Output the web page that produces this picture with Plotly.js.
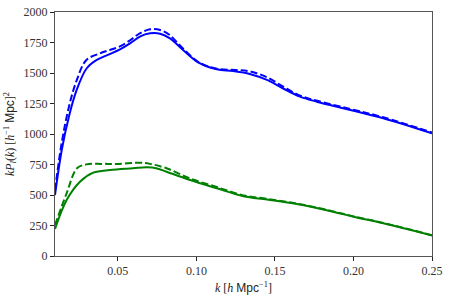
<!DOCTYPE html>
<html>
<head>
<meta charset="utf-8">
<script src="https://cdn.plot.ly/plotly-3.0.1.min.js"></script>
<style>html,body{margin:0;padding:0;background:#fff;}#chart{width:450px;height:299px;}</style>
</head>
<body>
<div id="chart"></div>
<script>
const kBlueSolid = [0.010, 0.0143, 0.019, 0.0238, 0.0302, 0.0366, 0.044, 0.0514, 0.058, 0.064, 0.0705, 0.0769, 0.0832, 0.0915, 0.102, 0.113, 0.1234, 0.134, 0.1449, 0.155, 0.166, 0.1767, 0.198, 0.219, 0.25];
const pBlueSolid = [500, 869, 1150, 1361, 1539, 1607, 1650, 1694, 1745, 1798, 1825, 1822, 1784, 1689, 1580, 1530, 1516, 1492, 1443, 1375, 1306, 1265, 1197, 1129, 1005];
const kBlueDash = [0.010, 0.0143, 0.019, 0.0238, 0.030, 0.0387, 0.044, 0.051, 0.058, 0.064, 0.0705, 0.077, 0.083, 0.0915, 0.102, 0.113, 0.125, 0.135, 0.145, 0.155, 0.166, 0.177, 0.198, 0.219, 0.25];
const pBlueDash = [540, 930, 1230, 1440, 1607, 1661, 1685, 1716, 1770, 1825, 1858, 1852, 1811, 1700, 1585, 1535, 1525, 1510, 1465, 1390, 1315, 1272, 1205, 1137, 1012];
const kGreenSolid = [0.010, 0.0174, 0.0259, 0.0344, 0.045, 0.0597, 0.0684, 0.075, 0.081, 0.096, 0.113, 0.13, 0.145, 0.164, 0.187, 0.20, 0.219, 0.25];
const pGreenSolid = [221, 459, 609, 683, 705, 719, 727, 718, 691, 623, 555, 490, 463, 426, 363, 322, 268, 168];
const kGreenDash = [0.010, 0.0174, 0.024, 0.030, 0.040, 0.050, 0.064, 0.0705, 0.081, 0.096, 0.113, 0.13, 0.145, 0.164, 0.187, 0.20, 0.219, 0.25];
const pGreenDash = [254, 514, 719, 751, 755, 755, 765, 755, 719, 635, 565, 497, 468, 430, 366, 325, 271, 170];
const xTicks = [0.05, 0.10, 0.15, 0.20, 0.25];
const xTickText = ['0.05', '0.10', '0.15', '0.20', '0.25'];
const yTicks = [0, 250, 500, 750, 1000, 1250, 1500, 1750, 2000];

const traces = [
  {x: kBlueSolid, y: pBlueSolid, mode: 'lines', line: {color: '#0000ff', width: 2, shape: 'spline'}},
  {x: kBlueDash, y: pBlueDash, mode: 'lines', line: {color: '#0000ff', width: 2, dash: '7px,3px', shape: 'spline'}},
  {x: kGreenSolid, y: pGreenSolid, mode: 'lines', line: {color: '#008000', width: 2, shape: 'spline'}},
  {x: kGreenDash, y: pGreenDash, mode: 'lines', line: {color: '#008000', width: 2, dash: '7px,3px', shape: 'spline'}}
];
const tickFont = {family: 'Liberation Serif, DejaVu Serif, serif', size: 12, color: '#333'};
const mpc = '<span style="font-family:Liberation Sans, sans-serif">Mpc</span>';
const layout = {
  width: 450, height: 299,
  margin: {l: 55, r: 18, t: 12, b: 43},
  paper_bgcolor: '#fff', plot_bgcolor: '#fff',
  showlegend: false,
  xaxis: {
    range: [0.01, 0.25], tickvals: xTicks, ticktext: xTickText,
    ticks: 'outside', ticklen: 4, tickcolor: '#222', showgrid: false, zeroline: false,
    showline: true, linecolor: '#555', linewidth: 1, mirror: true,
    tickfont: tickFont,
    title: {text: '<i>k</i> [<i>h</i> ' + mpc + '<sup>−1</sup>]', font: {family: 'Liberation Serif, serif', size: 12, color: '#222'}, standoff: 6}
  },
  yaxis: {
    range: [0, 2000], tickvals: yTicks,
    ticks: 'outside', ticklen: 4, tickcolor: '#222', showgrid: false, zeroline: false,
    showline: true, linecolor: '#555', linewidth: 1, mirror: true,
    tickfont: tickFont,
    title: {text: '<i>kP<sub>l</sub></i>(<i>k</i>) [<i>h</i><sup>−1</sup> ' + mpc + ']<sup>2</sup>', font: {family: 'Liberation Serif, serif', size: 12, color: '#222'}, standoff: 6}
  }
};
Plotly.newPlot('chart', traces, layout, {staticPlot: true, displayModeBar: false});
</script>
</body>
</html>
